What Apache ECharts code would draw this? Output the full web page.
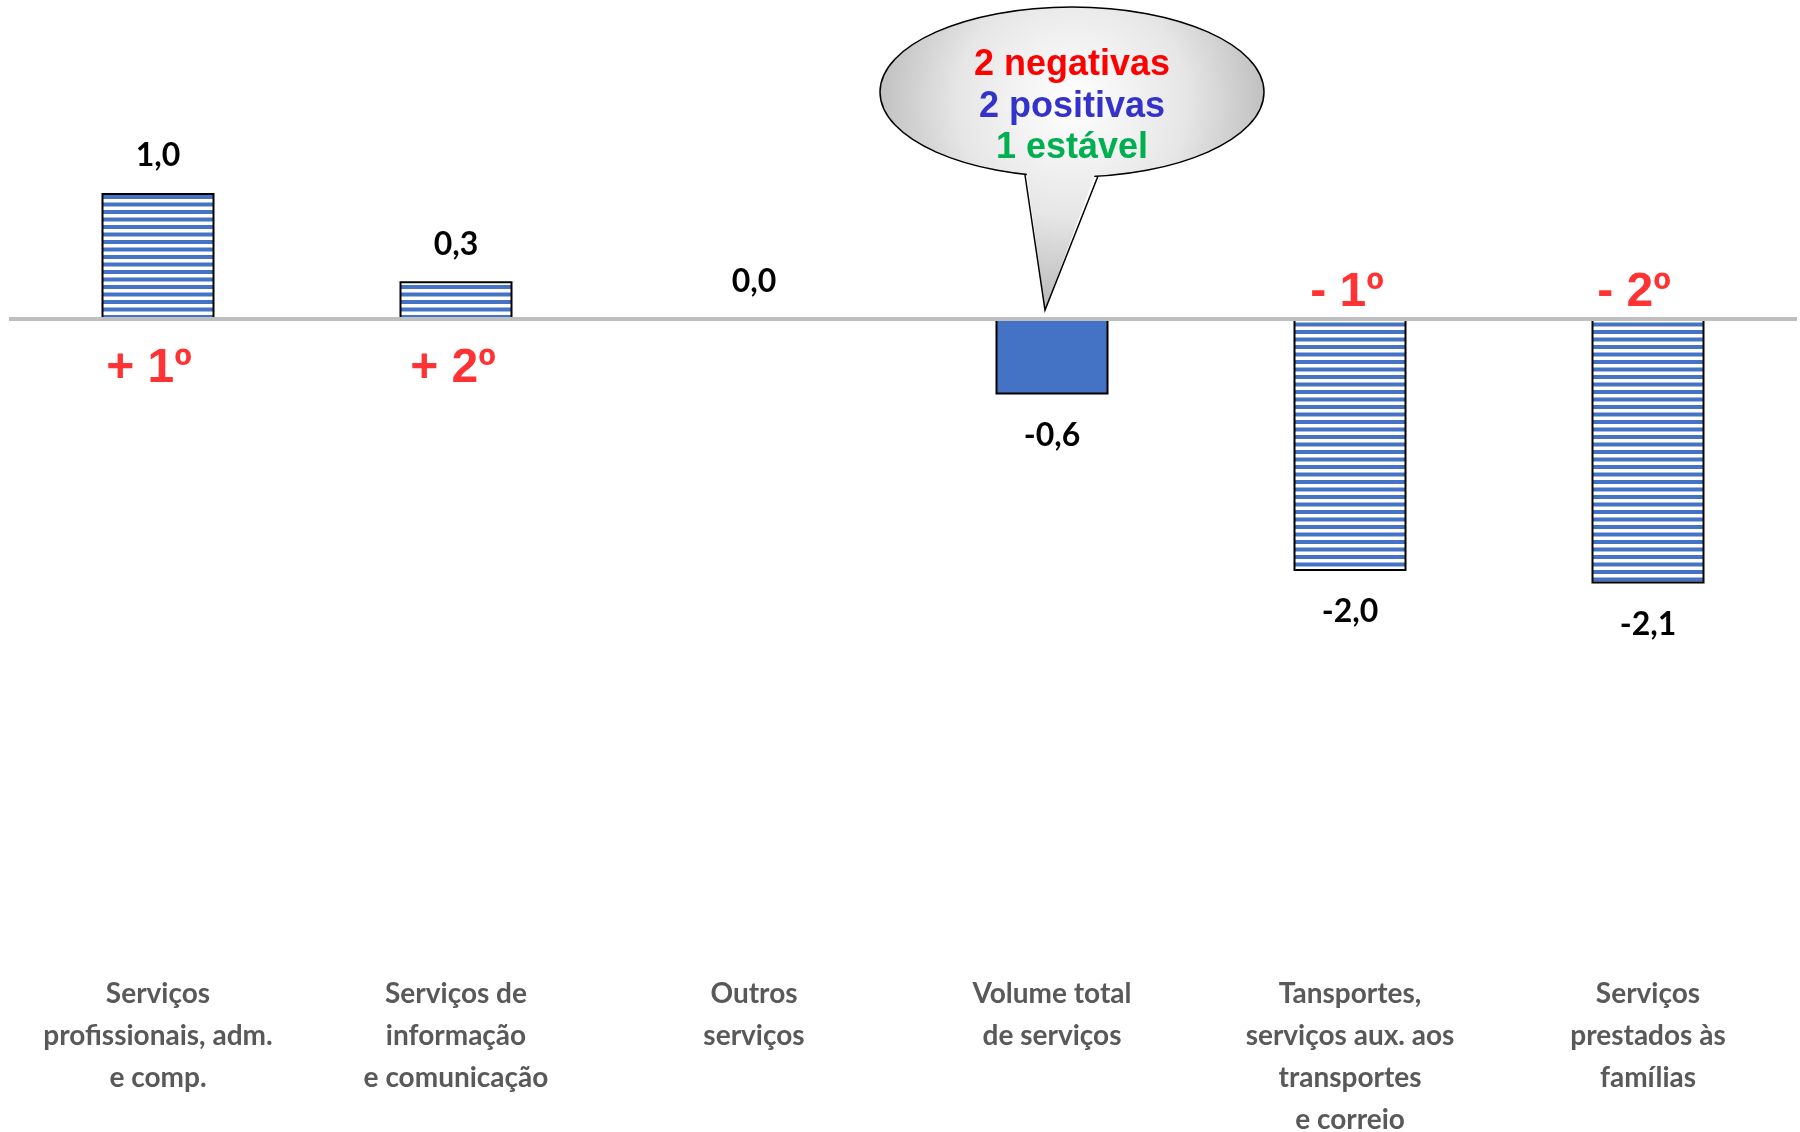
<!DOCTYPE html>
<html>
<head>
<meta charset="utf-8">
<script src="https://cdn.jsdelivr.net/npm/echarts@6/dist/echarts.min.js"></script>
<style>
  html, body { margin: 0; padding: 0; background: #ffffff; overflow: hidden; width: 1800px; height: 1132px; }
  #chart { width: 1800px; height: 1132px; }
</style>
</head>
<body>
<div id="chart"></div>
<script>
// ---- Data ----
const categories = [
  'Serviços\nprofissionais, adm.\ne comp.',
  'Serviços de\ninformação\ne comunicação',
  'Outros\nserviços',
  'Volume total\nde serviços',
  'Tansportes,\nserviços aux. aos\ntransportes\ne correio',
  'Serviços\nprestados às\nfamílias'
];
const values = [1.0, 0.3, 0.0, -0.6, -2.0, -2.1];
const ranks = ['+ 1º', '+ 2º', '', '', '- 1º', '- 2º'];
const totalCategory = 'Volume total\nde serviços';
const bubbleLines = ['2 negativas', '2 positivas', '1 estável'];

// ---- Layout / styles ----
const RANK_X_NUDGE = [-9, -3, 0, 0, -3, -14];
const BLUE = '#4472c4';
const stripeCanvas = document.createElement('canvas');
stripeCanvas.width = 16;
stripeCanvas.height = 15;
(function () {
  const ctx = stripeCanvas.getContext('2d');
  ctx.fillStyle = '#ffffff';
  ctx.fillRect(0, 0, 16, 15);
  ctx.fillStyle = BLUE;
  ctx.fillRect(0, 0, 16, 4);
  ctx.fillRect(0, 7.5, 16, 4);
})();
const stripePattern = { image: stripeCanvas, repeat: 'repeat' };

const fmt = v => v.toFixed(1).replace('.', ',');

const barData = values.map((v, i) => ({
  value: v,
  itemStyle: {
    color: categories[i] === totalCategory ? BLUE : stripePattern,
    borderColor: '#000000',
    borderWidth: v === 0 ? 0 : 2
  },
  label: { position: v >= 0 ? 'top' : 'bottom', distance: v >= 0 ? 21 : 25 }
}));

const rankData = ranks.map((r, i) => ({
  value: 0,
  rank: r,
  label: {
    show: r !== '',
    position: values[i] >= 0 ? 'bottom' : 'top',
    distance: values[i] >= 0 ? 26 : 2,
    offset: [RANK_X_NUDGE[i], 0]
  }
}));

const chart = echarts.init(document.getElementById('chart'), null, { renderer: 'canvas', width: 1800, height: 1132 });

const BX = 1072, BY = 92, RX = 192, RY = 85;
const bubbleFill = {
  type: 'radial', x: BX, y: BY + 10, r: 210, global: true,
  colorStops: [
    { offset: 0, color: '#ffffff' },
    { offset: 0.55, color: '#e6e6e6' },
    { offset: 1, color: '#b8b8b8' }
  ]
};
const textFont = 'bold 36px "Liberation Sans", Arial, sans-serif';
const labelFamily = 'Lato, "Open Sans", sans-serif';

chart.setOption({
  animation: false,
  backgroundColor: '#ffffff',
  grid: { left: 9, right: 3, top: 67, bottom: 183, containLabel: false, outerBoundsMode: 'none' },
  xAxis: {
    type: 'category',
    data: categories,
    axisLine: { show: false, onZero: false },
    axisTick: { show: false },
    axisLabel: {
      interval: 0,
      margin: 24,
      color: '#595959',
      fontFamily: labelFamily,
      fontWeight: 'bold',
      fontSize: 28,
      lineHeight: 42
    }
  },
  yAxis: {
    type: 'value',
    min: -5,
    max: 2,
    interval: 1,
    show: false,
    splitLine: { show: false }
  },
  series: [
    {
      type: 'bar',
      data: barData,
      barWidth: 113,
      label: {
        show: true,
        formatter: p => fmt(p.value),
        color: '#000000',
        fontFamily: labelFamily,
        fontWeight: 'bold',
        fontSize: 32
      },
      markLine: {
        silent: true,
        symbol: 'none',
        label: { show: false },
        lineStyle: { color: '#bfbfbf', width: 4, type: 'solid' },
        data: [{ yAxis: 0 }],
        z: 10
      }
    },
    {
      type: 'scatter',
      data: rankData,
      symbolSize: 0,
      silent: true,
      label: {
        formatter: p => p.data.rank,
        color: '#ff0000',
        fontFamily: '"Liberation Sans", Arial, sans-serif',
        fontWeight: 'bold',
        fontSize: 48
      },
      z: 20
    }
  ],
  graphic: [
    {
      type: 'ellipse',
      z: 100,
      shape: { cx: BX, cy: BY, rx: RX, ry: RY },
      style: { fill: bubbleFill, stroke: '#000000', lineWidth: 1.5 }
    },
    {
      type: 'polygon',
      z: 101,
      shape: { points: [[1026, 168], [1045, 310], [1097, 169]] },
      style: { fill: bubbleFill }
    },
    {
      type: 'polyline',
      z: 102,
      shape: { points: [[1025, 175], [1045, 310], [1098, 176]] },
      style: { fill: null, stroke: '#000000', lineWidth: 1.5 }
    },
    {
      type: 'text', z: 103, x: BX, y: 65,
      style: { text: bubbleLines[0], fill: '#ff0000', font: textFont, textAlign: 'center', textVerticalAlign: 'middle' }
    },
    {
      type: 'text', z: 103, x: BX, y: 107,
      style: { text: bubbleLines[1], fill: '#3333cc', font: textFont, textAlign: 'center', textVerticalAlign: 'middle' }
    },
    {
      type: 'text', z: 103, x: BX, y: 148,
      style: { text: bubbleLines[2], fill: '#00b050', font: textFont, textAlign: 'center', textVerticalAlign: 'middle' }
    }
  ]
});
</script>
</body>
</html>
